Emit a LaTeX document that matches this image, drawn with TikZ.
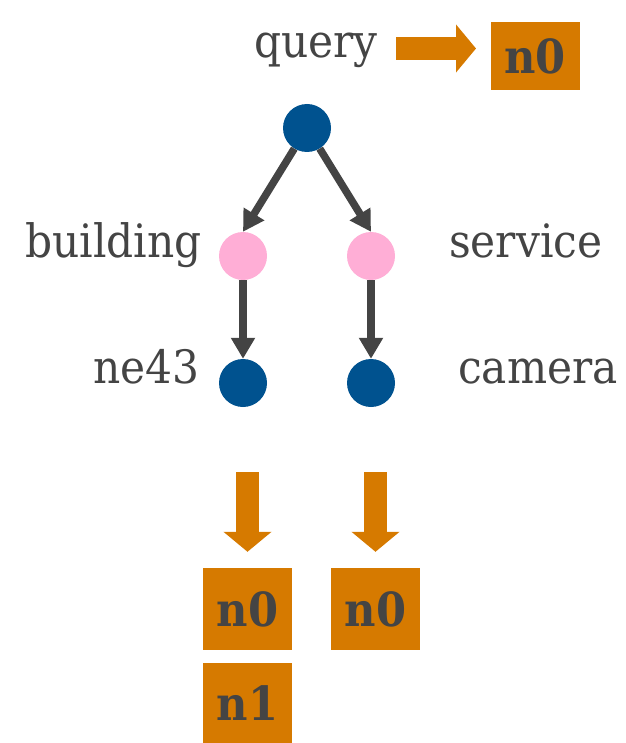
\documentclass[tikz,border=0pt]{standalone}
\usepackage{fontspec}
\usepackage{tikz}
\usetikzlibrary{arrows.meta, positioning}
\newfontfamily\lblfont[FakeStretch=0.92]{DejaVu Serif}
\definecolor{inkgray}{HTML}{444444}
\definecolor{termblue}{HTML}{00528F}
\definecolor{labelpink}{HTML}{FFAED6}
\definecolor{postorange}{HTML}{D67A00}

\begin{document}
\begin{tikzpicture}[
    x=1pt, y=-1pt,
    dot/.style={circle, minimum size=48pt, inner sep=0pt},
    term/.style={dot, fill=termblue},
    lbl/.style={dot, fill=labelpink},
    word/.style={inner sep=0pt, text=inkgray, font=\lblfont\fontsize{46}{50}\selectfont},
    post/.style={fill=postorange, minimum width=89pt, minimum height=82pt, inner sep=0pt,
                 text=inkgray, font=\lblfont\bfseries\fontsize{47}{50}\selectfont},
    edge/.style={-{Triangle[length=21pt, width=23pt]}, line width=7.5pt, inkgray},
    bigarr/.style={-{Triangle[length=20pt, width=47pt]}, line width=23pt, postorange}
  ]
    \useasboundingbox (0,0) rectangle (625,743);

    % query tree
    \node[term] (root) at (307,128) {};
    \node[lbl]  (bld)  at (243,256) {};
    \node[lbl]  (svc)  at (371,256) {};
    \node[term] (ne)   at (243,383) {};
    \node[term] (cam)  at (371,383) {};

    \draw[edge] (root) -- (bld.north);
    \draw[edge] (root) -- (svc.north);
    \draw[edge] (bld) -- (ne);
    \draw[edge] (svc) -- (cam);

    \node[word, anchor=base east] (tq)   at (378,58)  {query};
    \node[word, anchor=base east] (tbld) at (202,257) {building};
    \node[word, anchor=base west] (tsvc) at (449,257) {service};
    \node[word, anchor=base east] (tne)  at (200,383) {ne43};
    \node[word, anchor=base west] (tcam) at (458,383) {camera};

    % postings
    \node[post, minimum height=68pt] (q0) at (535,56) {n0};
    \node[post] (ne0) at (247.5,609) {n0};
    \node[post] (ne1) at (247.5,703.5) {n1};
    \node[post] (cam0) at (375.5,609) {n0};

    \coordinate (qa) at (396,48.5);
    \coordinate (qb) at (476,48.5);
    \draw[bigarr] (qa) -- (qb);
    \draw[bigarr, shorten <=65pt, shorten >=16pt] (ne.south -| ne0.north) -- (ne0.north);
    \draw[bigarr, shorten <=65pt, shorten >=16pt] (cam.south -| cam0.north) -- (cam0.north);
\end{tikzpicture}
\end{document}
